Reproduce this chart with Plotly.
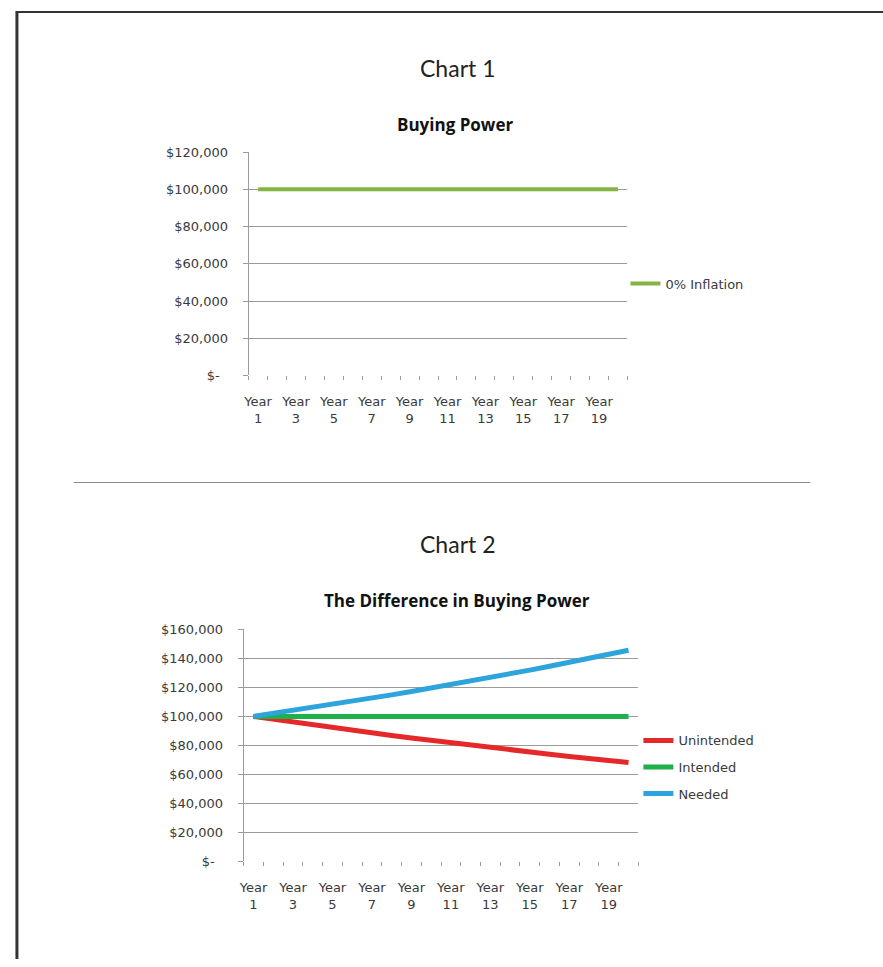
import plotly.graph_objects as go

W, H = 883, 967

years = [f"Year {i}" for i in range(1, 21)]
year_ticktext = [y.replace(" ", "<br>") if i % 2 == 0 else "" for i, y in enumerate(years)]

inflation0 = [100000] * 20

unintended = [100000, 98000, 96040, 94120, 92240, 90390, 88580, 86810, 85080, 83370,
              81710, 80070, 78470, 76900, 75360, 73860, 72380, 70930, 69510, 68120]
intended = [100000] * 20
needed = [100000, 102000, 104040, 106120, 108240, 110410, 112620, 114870, 117170, 119510,
          121900, 124340, 126820, 129360, 131950, 134590, 137280, 140020, 142830, 145680]

y1_vals = [0, 20000, 40000, 60000, 80000, 100000, 120000]
y1_text = ["$-\u00a0\u00a0", "$20,000", "$40,000", "$60,000", "$80,000", "$100,000", "$120,000"]
y2_vals = [0, 20000, 40000, 60000, 80000, 100000, 120000, 140000, 160000]
y2_text = ["$-\u00a0\u00a0", "$20,000", "$40,000", "$60,000", "$80,000", "$100,000",
           "$120,000", "$140,000", "$160,000"]

TICKFONT = dict(family="DejaVu Sans", size=13, color="#3a3a3a")
GRID = "#a09a96"


def px_x(x):
    return x / W


def px_y(y):
    return 1 - y / H


fig = go.Figure()

fig.add_trace(go.Scatter(x=years, y=inflation0, mode="lines", name="0% Inflation",
                         line=dict(color="#84b441", width=4), xaxis="x", yaxis="y",
                         legend="legend"))
fig.add_trace(go.Scatter(x=years, y=unintended, mode="lines", name="Unintended",
                         line=dict(color="#e5282a", width=5), xaxis="x2", yaxis="y2",
                         legend="legend2"))
fig.add_trace(go.Scatter(x=years, y=intended, mode="lines", name="Intended",
                         line=dict(color="#1eb04b", width=5), xaxis="x2", yaxis="y2",
                         legend="legend3"))
fig.add_trace(go.Scatter(x=years, y=needed, mode="lines", name="Needed",
                         line=dict(color="#2ea4dc", width=5), xaxis="x2", yaxis="y2",
                         legend="legend4"))


def xaxis(domain, anchor):
    return dict(domain=domain, anchor=anchor, type="category", range=[-0.5, 19.5],
                tickmode="array", tickvals=years, ticktext=year_ticktext,
                tickson="boundaries", ticks="outside", ticklen=4, tickcolor=GRID,
                tickangle=0, showgrid=False, showline=False, zeroline=False,
                tickfont=TICKFONT, ticklabelstandoff=17, fixedrange=True)


def yaxis(domain, anchor, vals, text, rmax):
    return dict(domain=domain, anchor=anchor, range=[0, rmax], tickmode="array",
                tickvals=vals, ticktext=text, showgrid=True, gridcolor=GRID,
                gridwidth=1, showline=True, linecolor=GRID, linewidth=1,
                ticks="outside", ticklen=5, tickcolor=GRID, zeroline=False,
                tickfont=TICKFONT, ticklabelstandoff=12, fixedrange=True)


legend_common = dict(font=dict(family="DejaVu Sans", size=13, color="#3a3a3a"),
                     bgcolor="rgba(0,0,0,0)", borderwidth=0, xanchor="left",
                     yanchor="middle", itemwidth=30)

ann_common = dict(xref="paper", yref="paper", showarrow=False,
                  xanchor="center", yanchor="middle")

fig.update_layout(
    width=W, height=H,
    margin=dict(l=0, r=0, t=0, b=0),
    paper_bgcolor="white", plot_bgcolor="white",
    xaxis=xaxis([px_x(245), px_x(626)], "y"),
    yaxis=yaxis([px_y(374.3), px_y(147.3)], "x", y1_vals, y1_text, 120000),
    xaxis2=xaxis([px_x(240), px_x(637)], "y2"),
    yaxis2=yaxis([px_y(867.7), px_y(632.3)], "x2", y2_vals, y2_text, 160000),
    legend=dict(x=px_x(624), y=px_y(281), **legend_common),
    legend2=dict(x=px_x(637), y=px_y(745), **legend_common),
    legend3=dict(x=px_x(637), y=px_y(772), **legend_common),
    legend4=dict(x=px_x(637), y=px_y(799), **legend_common),
    showlegend=True,
    annotations=[
        dict(text="Chart 1", x=px_x(455), y=px_y(62),
             font=dict(family="Lato", size=23, color="#222"), **ann_common),
        dict(text="<b>Buying Power</b>", x=px_x(453), y=px_y(119),
             font=dict(family="Open Sans", size=17, color="#111"), **ann_common),
        dict(text="Chart 2", x=px_x(455), y=px_y(545),
             font=dict(family="Lato", size=23, color="#222"), **ann_common),
        dict(text="<b>The Difference in Buying Power</b>", x=px_x(455), y=px_y(603),
             font=dict(family="Open Sans", size=17, color="#111"), **ann_common),
    ],
    shapes=[
        dict(type="line", xref="paper", yref="paper", x0=px_x(11), x1=1,
             y0=px_y(5), y1=px_y(5), line=dict(color="#333", width=2)),
        dict(type="line", xref="paper", yref="paper", x0=px_x(12), x1=px_x(12),
             y0=px_y(4), y1=0, line=dict(color="#333", width=3)),
        dict(type="line", xref="paper", yref="paper", x0=px_x(69), x1=px_x(810),
             y0=px_y(483), y1=px_y(483), line=dict(color="#8a8a8a", width=1)),
    ],
)

fig.write_html("out.html")
